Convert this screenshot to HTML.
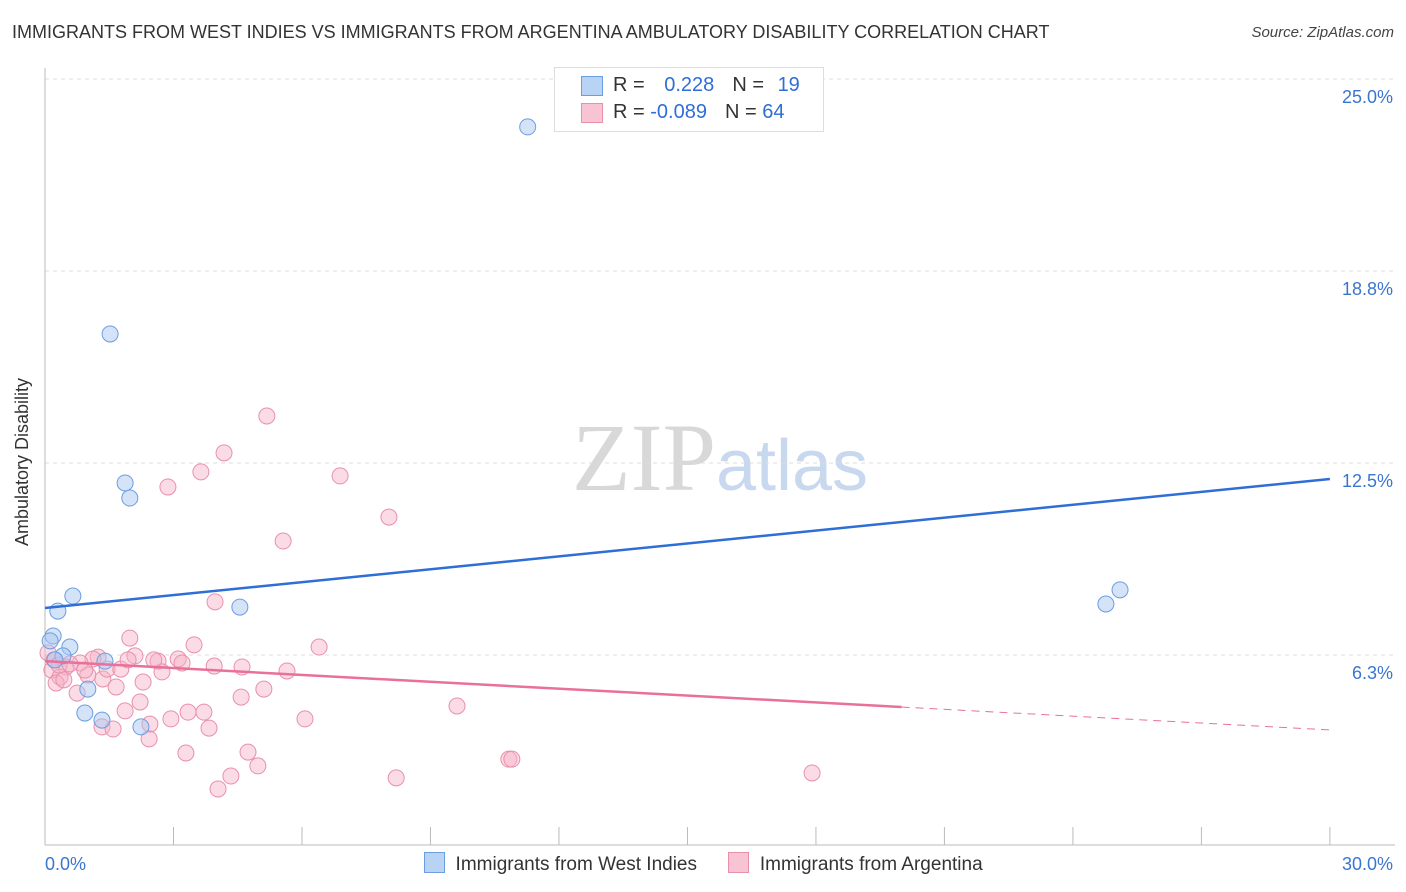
<!DOCTYPE html>
<html><head><meta charset="utf-8"><style>
body{margin:0;background:#fff;font-family:"Liberation Sans",sans-serif;}
#wrap{position:relative;width:1406px;height:892px;overflow:hidden;}
</style></head><body>
<div id="wrap">
<div style="position:absolute;left:12px;top:22px;font-size:18px;color:#333;">IMMIGRANTS FROM WEST INDIES VS IMMIGRANTS FROM ARGENTINA AMBULATORY DISABILITY CORRELATION CHART</div>
<div style="position:absolute;right:12px;top:24px;font-size:15px;color:#444;font-style:italic;">Source: ZipAtlas.com</div>
<svg id="svg" width="1406" height="892" style="position:absolute;left:0;top:0">
<text x="720" y="490" text-anchor="middle" font-family="Liberation Serif,serif" font-size="96" fill="#d8d8d8">ZIP<tspan font-family="Liberation Sans,sans-serif" font-size="72" fill="#c8d8ee">atlas</tspan></text>
<g id="grid"></g><g id="marks"></g>
<text x="22" y="456" transform="rotate(-90 28 456)" text-anchor="middle" font-size="18" fill="#333">Ambulatory Disability</text>
</svg>
<div style="position:absolute;left:554px;top:67px;width:268px;height:63px;border:1px solid #ddd;background:#fff;font-size:20px;">
 <div style="position:absolute;left:26px;top:8px;width:20px;height:18px;background:#b9d3f5;border:1px solid #6a9ee0"></div>
 <div style="position:absolute;left:58px;top:6px;color:#333">R = <span style="color:#2f6ed6;margin-left:14px">0.228</span><span style="margin-left:18px">N = </span><span style="color:#2f6ed6;margin-left:8px">19</span></div>
 <div style="position:absolute;left:26px;top:35px;width:20px;height:18px;background:#f8c4d4;border:1px solid #e890ab"></div>
 <div style="position:absolute;left:58px;top:33px;color:#333">R = <span style="color:#2f6ed6">-0.089</span><span style="margin-left:18px">N = </span><span style="color:#2f6ed6">64</span></div>
</div>
<div style="position:absolute;left:424px;top:852px;font-size:19px;color:#333;white-space:nowrap;">
 <span style="display:inline-block;width:19px;height:19px;background:#b9d3f5;border:1px solid #6a9ee0;vertical-align:-3px"></span>&nbsp; Immigrants from West Indies
 <span style="display:inline-block;width:19px;height:19px;background:#f8c4d4;border:1px solid #e890ab;vertical-align:-3px;margin-left:26px"></span>&nbsp; Immigrants from Argentina
</div>
</div>
<script>
const yTicks=[6.3,12.5,18.8,25.0];
const yTickVals=[6.25,12.5,18.75,25];
const blueX=[11.27,1.52,1.87,1.98,0.65,0.30,0.19,0.12,0.58,0.42,1.40,1.00,0.93,1.33,2.24,4.55,24.77,25.1,0.23];
const blueY=[23.44,16.7,11.85,11.36,8.17,7.68,6.87,6.71,6.51,6.22,6.05,5.14,4.36,4.13,3.91,7.81,7.91,8.37,6.09];
const pinkX=[5.18,4.18,3.64,2.87,6.89,8.03,5.56,3.97,1.98,3.48,6.40,2.64,3.11,3.20,2.10,1.24,1.12,0.82,0.49,0.21,0.16,0.35,0.26,0.44,0.75,1.00,1.35,1.45,1.66,1.77,2.29,2.73,3.95,4.60,5.65,5.11,4.58,2.22,1.87,3.34,3.71,2.94,6.07,9.62,1.33,1.59,2.45,3.83,2.43,3.29,4.74,4.97,4.34,4.04,8.20,10.83,10.90,17.91,0.33,0.58,0.07,0.93,1.94,2.54];
const pinkY=[14.03,12.83,12.21,11.72,12.08,10.74,9.96,7.98,6.80,6.58,6.51,6.05,6.12,5.99,6.22,6.18,6.12,5.99,5.86,6.09,5.76,5.53,5.34,5.44,5.01,5.60,5.47,5.79,5.21,5.79,5.37,5.70,5.89,5.86,5.73,5.14,4.88,4.72,4.43,4.39,4.39,4.17,4.17,4.59,3.91,3.84,4.00,3.87,3.52,3.06,3.09,2.64,2.31,1.89,2.25,2.86,2.86,2.41,5.92,5.96,6.32,5.76,6.09,6.09];
const blueLine=[7.78,11.98];
const pinkLine=[6.05,3.81];
const pinkSolidEnd=20;
const xs=v=>45+v*42.83, ys=v=>847-v*30.72;
const NS="http://www.w3.org/2000/svg";
const grid=document.getElementById('grid'), marks=document.getElementById('marks');
function mk(tag,attrs,parent){const e=document.createElementNS(NS,tag);for(const k in attrs)e.setAttribute(k,attrs[k]);parent.appendChild(e);return e;}
yTickVals.forEach((v,i)=>{
 const l=mk('line',{x1:45,x2:1395,y1:ys(v),y2:ys(v),stroke:'#ddd','stroke-dasharray':'4,4'},grid);
 
 
 const t=mk('text',{x:1393,y:ys(v)+24,'text-anchor':'end','font-size':18,fill:'#3a76d0'},grid);
 t.textContent=yTicks[i].toFixed(1)+'%';
 
 
});
const ax=mk('line',{x1:45,x2:45,y1:68,y2:845,stroke:'#bbb'},grid);


const bx=mk('line',{x1:45,x2:1395,y1:845,y2:845,stroke:'#bbb'},grid);


for(let i=0;i<=10;i++){const t=mk('line',{x1:xs(i*3),x2:xs(i*3),y1:827,y2:845,stroke:'#bbb'},grid);
 
 }
[[0,'0.0%','start',45],[30,'30.0%','end',1393]].forEach(a=>{const t=mk('text',{x:a[3],y:870,'text-anchor':a[2],'font-size':18,fill:'#3a76d0'},grid);t.textContent=a[1];
 
 });
pinkX.forEach((x,i)=>{const c=mk('circle',{cx:xs(x),cy:ys(pinkY[i]),r:8,fill:'rgba(246,178,200,0.45)',stroke:'#e890ab','stroke-width':1},marks);
 
 });
blueX.forEach((x,i)=>{const c=mk('circle',{cx:xs(x),cy:ys(blueY[i]),r:8,fill:'rgba(169,200,240,0.5)',stroke:'#6a9ee0','stroke-width':1},marks);
 
 });
const bl=mk('line',{x1:xs(0),y1:ys(blueLine[0]),x2:xs(30),y2:ys(blueLine[1]),stroke:'#2f6ed6','stroke-width':2.5},marks);


const pm=pinkLine[0]+(pinkLine[1]-pinkLine[0])*pinkSolidEnd/30;
const pl=mk('line',{x1:xs(0),y1:ys(pinkLine[0]),x2:xs(pinkSolidEnd),y2:ys(pm),stroke:'#e8709a','stroke-width':2.5},marks);


const pd=mk('line',{x1:xs(pinkSolidEnd),y1:ys(pm),x2:xs(30),y2:ys(pinkLine[1]),stroke:'#e8709a','stroke-width':1,'stroke-dasharray':'8,6'},marks);


</script>
</body></html>
